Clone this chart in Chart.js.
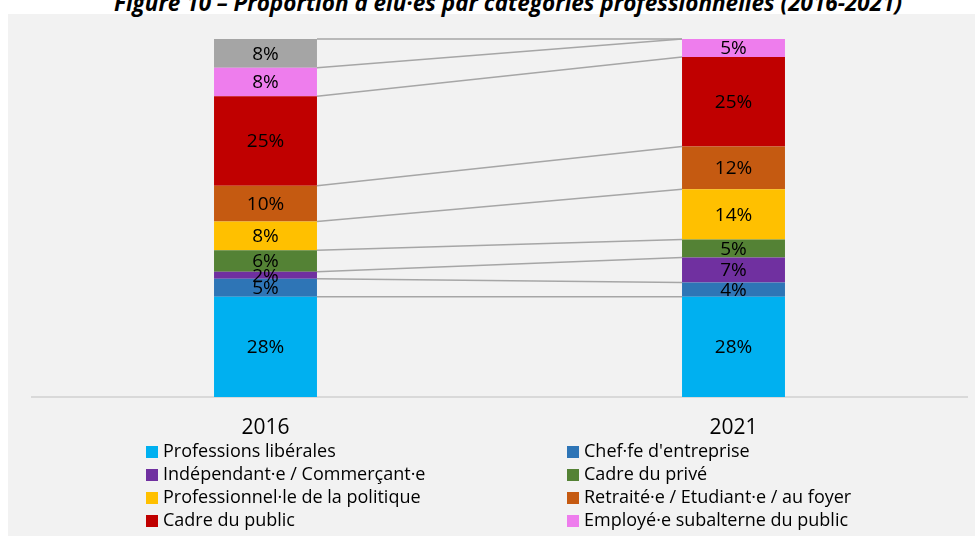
<!DOCTYPE html>
<html>
<head>
<meta charset="utf-8">
<script src="https://cdn.jsdelivr.net/npm/chart.js@4/dist/chart.umd.min.js"></script>
<style>
  body { margin: 0; background: #fff; width: 975px; height: 536px; overflow: hidden; position: relative; font-family: 'Open Sans', sans-serif; }
  #fond { position: absolute; left: 8px; top: 14px; right: 0; bottom: 0; background: #f2f2f2; }
  #titre { position: absolute; left: 114px; top: -7px; line-height: 20px; font-size: 22.5px; font-weight: bold; font-style: italic; white-space: nowrap; color: #000; }
  #graphique { position: absolute; left: 0; top: 0; }
  #legende { position: absolute; left: 0; top: 0; }
  .item { position: absolute; font-size: 18px; line-height: 23px; white-space: nowrap; color: #000; }
  .item span { display: inline-block; width: 12px; height: 12px; margin-right: 5px; vertical-align: -1px; }
</style>
</head>
<body>
<div id="fond"></div>
<div id="titre">Figure 10 – Proportion d'élu·es par catégories professionnelles (2016-2021)</div>
<canvas id="graphique" width="975" height="536"></canvas>
<div id="legende"></div>
<script>
// Données (en %)
const annees = ['2016', '2021']
const professionsLiberales = [28, 28]
const chefEntreprise = [5, 4]
const independant = [2, 7]
const cadrePrive = [6, 5]
const professionnelPolitique = [8, 14]
const retraite = [10, 12]
const cadrePublic = [25, 25]
const employePublic = [8, 5]
const autres = [8, 0]

const series = [
  { label: 'Professions libérales', data: professionsLiberales, couleur: '#00b0f0' },
  { label: "Chef·fe d'entreprise", data: chefEntreprise, couleur: '#2e75b6' },
  { label: 'Indépendant·e / Commerçant·e', data: independant, couleur: '#7030a0' },
  { label: 'Cadre du privé', data: cadrePrive, couleur: '#548235' },
  { label: 'Professionnel·le de la politique', data: professionnelPolitique, couleur: '#ffc000' },
  { label: 'Retraité·e / Etudiant·e / au foyer', data: retraite, couleur: '#c55a11' },
  { label: 'Cadre du public', data: cadrePublic, couleur: '#c00000' },
  { label: 'Employé·e subalterne du public', data: employePublic, couleur: '#ee7ded' },
  { label: 'Autres', data: autres, couleur: '#a5a5a5', cache: true }
]

// lignes de liaison entre les deux barres + étiquettes
const liaisons = {
  id: 'liaisons',
  afterDatasetsDraw(chart) {
    const ctx = chart.ctx
    ctx.save()
    ctx.strokeStyle = '#a6a6a6'
    ctx.lineWidth = 1.5
    chart.data.datasets.forEach((ds, i) => {
      const barres = chart.getDatasetMeta(i).data
      const a = barres[0], b = barres[1]
      ctx.beginPath()
      ctx.moveTo(a.x + a.width / 2, a.y)
      ctx.lineTo(b.x - b.width / 2, b.y)
      ctx.stroke()
    })
    ctx.fillStyle = '#000'
    ctx.font = '19px "Open Sans"'
    ctx.textAlign = 'center'
    ctx.textBaseline = 'middle'
    chart.data.datasets.forEach((ds, i) => {
      chart.getDatasetMeta(i).data.forEach((barre, j) => {
        const v = ds.data[j]
        if (!v) return
        ctx.fillText(v + '%', barre.x, (barre.y + barre.base) / 2 + 1)
      })
    })
    ctx.restore()
  }
}

const graph = new Chart(document.getElementById('graphique'), {
  type: 'bar',
  data: {
    labels: annees,
    datasets: series.map(s => ({
      label: s.label,
      data: s.data,
      backgroundColor: s.couleur,
      borderWidth: 0,
      categoryPercentage: 1,
      barPercentage: 0.22
    }))
  },
  options: {
    responsive: false,
    animation: false,
    events: [],
    layout: { padding: { left: 31.5, right: 7.5, top: 39, bottom: 77.8 } },
    plugins: { legend: { display: false }, tooltip: { enabled: false } },
    scales: {
      x: {
        stacked: true,
        grid: { display: false, drawTicks: false },
        border: { display: true, color: '#d9d9d9', width: 2 },
        ticks: { color: '#000', padding: 18, font: { family: 'Open Sans', size: 21 } }
      },
      y: { stacked: true, display: false, min: 0, max: 100 }
    }
  },
  plugins: [liaisons]
})

// légende en deux colonnes
const legende = document.getElementById('legende')
series.filter(s => !s.cache).forEach((s, i) => {
  const el = document.createElement('div')
  el.className = 'item'
  el.style.left = (i % 2 === 0 ? 146 : 567) + 'px'
  el.style.top = (438.5 + Math.floor(i / 2) * 23) + 'px'
  el.innerHTML = '<span style="background:' + s.couleur + '"></span>' + s.label
  legende.appendChild(el)
})
</script>
</body>
</html>
